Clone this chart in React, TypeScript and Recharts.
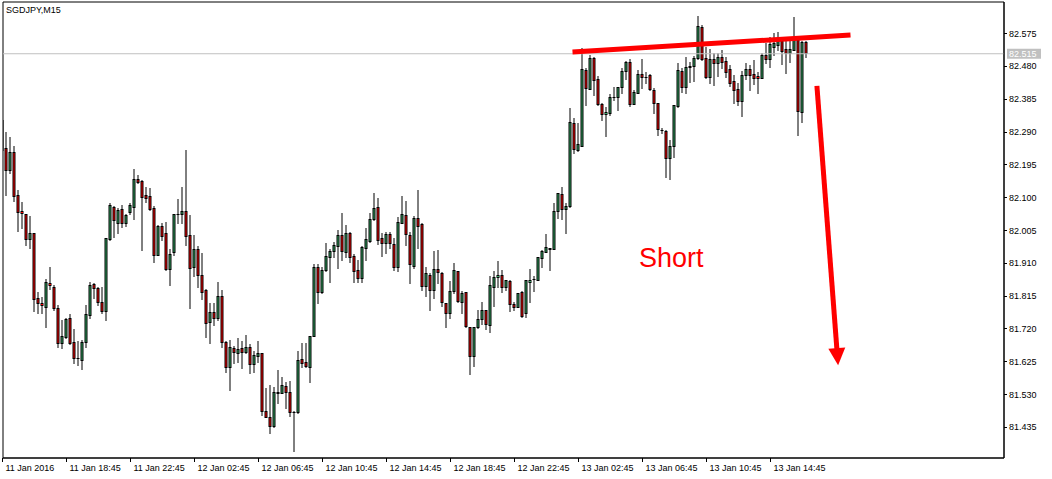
import React from 'react';
import { ComposedChart, Bar, XAxis, YAxis, ReferenceLine, ReferenceArea, ReferenceDot } from 'recharts';

const SYMBOL = 'SGDJPY,M15';

const OPEN = [
82.237,82.242,82.179,82.231,82.106,82.060,82.051,81.979,81.996,81.808,
81.794,81.782,81.852,81.840,81.779,81.678,81.695,81.751,81.681,81.635,
81.629,81.681,81.759,81.849,81.837,81.797,81.771,81.979,82.071,82.025,
82.066,82.025,82.057,82.071,82.153,82.147,82.106,82.103,82.069,81.933,
82.017,81.996,81.892,81.941,82.051,82.051,82.060,81.991,81.898,81.950,
81.875,81.831,81.739,81.768,81.751,81.814,81.681,81.609,81.664,81.649,
81.664,81.652,81.667,81.617,81.641,81.649,81.481,81.464,81.438,81.534,
81.534,81.554,81.536,81.478,81.478,81.632,81.623,81.609,81.698,81.898,
81.826,81.889,81.927,81.944,81.959,81.991,81.941,81.996,81.930,81.889,
81.866,81.953,81.973,82.037,82.071,81.982,81.968,81.993,81.965,81.898,
82.025,82.048,81.991,81.901,82.040,82.022,81.843,81.875,81.831,81.892,
81.881,81.794,81.765,81.829,81.886,81.797,81.826,81.724,81.641,81.724,
81.747,81.774,81.730,81.840,81.869,81.875,81.840,81.857,81.791,81.782,
81.826,81.765,81.855,81.863,81.860,81.924,81.941,81.950,81.950,82.060,
82.109,82.066,82.074,82.315,82.236,82.248,82.468,82.413,82.503,82.442,
82.370,82.341,82.344,82.390,82.390,82.419,82.465,82.491,82.370,82.401,
82.456,82.448,82.453,82.410,82.373,82.294,82.291,82.213,82.248,82.364,
82.465,82.419,82.477,82.480,82.503,82.592,82.503,82.448,82.500,82.488,
82.506,82.494,82.471,82.436,82.413,82.378,82.453,82.471,82.456,82.451,
82.445,82.511,82.500,82.535,82.540,82.552,82.529,82.517,82.526,82.555,
82.347,82.549];

const HIGH = [
82.367,82.289,82.274,82.248,82.121,82.086,82.051,82.046,81.996,81.826,
81.811,81.863,81.898,81.846,81.788,81.745,81.750,81.762,81.719,81.684,
81.687,81.788,81.855,81.852,81.840,81.840,81.982,82.083,82.074,82.069,
82.077,82.052,82.083,82.181,82.164,82.150,82.130,82.127,82.074,82.019,
82.025,82.028,81.950,82.052,82.095,82.129,82.237,82.048,81.991,81.959,
81.939,81.834,81.794,81.794,81.855,81.831,81.684,81.687,81.670,81.693,
81.684,81.701,81.675,81.655,81.684,81.649,81.548,81.557,81.551,81.600,
81.580,81.566,81.568,81.481,81.655,81.678,81.678,81.698,81.907,81.907,
81.898,81.968,81.950,81.970,82.005,82.054,82.019,81.999,81.936,81.918,
81.959,82.011,82.054,82.112,82.098,81.996,81.999,81.999,81.982,82.043,
82.103,82.089,81.999,82.046,82.121,82.025,81.898,81.881,81.944,81.947,
81.883,81.794,81.857,81.909,81.886,81.829,81.826,81.724,81.724,81.774,
81.797,81.774,81.872,81.886,81.915,81.889,81.860,81.860,81.797,81.823,
81.829,81.860,81.892,81.872,81.927,81.947,81.993,81.953,82.083,82.112,
82.129,82.083,82.358,82.329,82.315,82.532,82.474,82.511,82.506,82.451,
82.373,82.361,82.399,82.419,82.419,82.474,82.494,82.500,82.410,82.468,
82.500,82.462,82.456,82.416,82.373,82.300,82.294,82.265,82.367,82.488,
82.474,82.506,82.491,82.509,82.624,82.598,82.535,82.529,82.517,82.517,
82.526,82.506,82.482,82.453,82.430,82.465,82.488,82.482,82.497,82.462,
82.517,82.546,82.564,82.575,82.578,82.561,82.555,82.555,82.621,82.558,
82.552,82.552];

const LOW = [
82.231,82.106,82.170,82.089,82.002,82.011,81.962,81.953,81.771,81.765,
81.765,81.724,81.834,81.774,81.667,81.664,81.693,81.675,81.620,81.614,
81.603,81.667,81.751,81.808,81.788,81.765,81.745,81.976,81.985,81.996,
82.014,82.017,82.051,82.037,82.141,81.947,82.086,82.063,81.912,81.933,
81.976,81.889,81.846,81.933,82.025,82.025,81.962,81.779,81.872,81.840,
81.805,81.695,81.678,81.730,81.745,81.667,81.594,81.542,81.620,81.623,
81.606,81.649,81.591,81.594,81.623,81.470,81.463,81.418,81.435,81.505,
81.534,81.490,81.467,81.366,81.476,81.609,81.609,81.566,81.698,81.794,
81.823,81.886,81.855,81.927,81.895,81.918,81.927,81.912,81.855,81.855,
81.855,81.918,81.970,82.034,81.965,81.930,81.938,81.953,81.889,81.886,
82.025,81.962,81.852,81.895,81.953,81.831,81.814,81.774,81.808,81.852,
81.785,81.724,81.751,81.823,81.797,81.765,81.724,81.588,81.612,81.721,
81.733,81.719,81.710,81.785,81.840,81.826,81.831,81.771,81.774,81.782,
81.753,81.753,81.797,81.829,81.860,81.898,81.941,81.889,81.950,82.040,
82.037,81.996,82.071,82.228,82.234,82.248,82.367,82.413,82.396,82.367,
82.323,82.277,82.338,82.381,82.352,82.401,82.442,82.364,82.370,82.401,
82.416,82.430,82.410,82.344,82.280,82.286,82.158,82.153,82.216,82.361,
82.404,82.401,82.433,82.436,82.500,82.497,82.445,82.430,82.425,82.451,
82.474,82.448,82.422,82.373,82.367,82.335,82.442,82.410,82.427,82.401,
82.445,82.488,82.477,82.511,82.526,82.485,82.459,82.491,82.526,82.280,
82.318,82.506];

const CLOSE = [
82.323,82.179,82.231,82.104,82.057,82.054,81.979,81.997,81.805,81.794,
81.788,81.854,81.846,81.779,81.678,81.698,81.747,81.678,81.635,81.636,
81.681,81.762,81.846,81.837,81.797,81.771,81.982,82.077,82.034,82.063,
82.025,82.048,82.077,82.153,82.144,82.101,82.098,82.066,81.933,82.017,
81.988,81.892,81.936,82.051,82.051,82.060,81.988,81.895,81.950,81.875,
81.826,81.736,81.768,81.751,81.814,81.681,81.609,81.667,81.652,81.661,
81.652,81.667,81.617,81.643,81.649,81.481,81.464,81.438,81.536,81.535,
81.557,81.536,81.478,81.479,81.629,81.620,81.612,81.698,81.898,81.826,
81.889,81.930,81.944,81.962,81.991,81.944,81.996,81.927,81.886,81.866,
81.956,81.979,82.037,82.069,81.976,81.968,81.993,81.968,81.898,82.028,
82.051,81.993,81.907,82.040,82.017,81.843,81.881,81.831,81.892,81.883,
81.797,81.765,81.829,81.889,81.800,81.823,81.727,81.641,81.724,81.747,
81.774,81.733,81.846,81.869,81.875,81.840,81.860,81.791,81.782,81.823,
81.756,81.860,81.860,81.864,81.927,81.944,81.956,81.953,82.060,82.112,
82.066,82.074,82.318,82.239,82.254,82.471,82.416,82.503,82.439,82.370,
82.341,82.347,82.390,82.391,82.419,82.465,82.491,82.370,82.404,82.456,
82.448,82.449,82.413,82.373,82.297,82.295,82.213,82.248,82.367,82.468,
82.419,82.477,82.480,82.503,82.595,82.500,82.448,82.500,82.488,82.506,
82.491,82.462,82.430,82.410,82.378,82.453,82.471,82.453,82.445,82.445,
82.511,82.500,82.543,82.546,82.552,82.523,82.517,82.529,82.555,82.349,
82.549,82.517];

const X_TICKS = [0, 16, 32, 48, 64, 80, 96, 112, 128, 144, 160, 176, 192];
const X_TICK_LABELS = [
  '11 Jan 2016', '11 Jan 18:45', '11 Jan 22:45', '12 Jan 02:45', '12 Jan 06:45',
  '12 Jan 10:45', '12 Jan 14:45', '12 Jan 18:45', '12 Jan 22:45', '13 Jan 02:45',
  '13 Jan 06:45', '13 Jan 10:45', '13 Jan 14:45',
];
const Y_TICKS = [82.575, 82.48, 82.385, 82.29, 82.195, 82.1, 82.005, 81.91, 81.815, 81.72, 81.625, 81.53, 81.435];
const LAST_PRICE = 82.515;

const X_DOMAIN = [0.125, 250.375];
const Y_DOMAIN = [81.3453, 82.6647];

const TREND_LINE = [{ x: 142.5, y: 82.52 }, { x: 212, y: 82.569 }];
const ARROW = [{ x: 203.6, y: 82.422 }, { x: 208.9, y: 81.614 }];
const NOTE = { x: 159.1, y: 81.898, text: 'Short' };

const GREEN = '#32A862';
const RED = '#FF0000';
const FONT = '"Liberation Sans", Arial, sans-serif';

const candles = OPEN.map((o, i) => ({ i, o, h: HIGH[i], l: LOW[i], c: CLOSE[i] }));

function Candle(props: any) {
  const { x, y, width, height, payload } = props;
  if (!payload || x == null || y == null) return null;
  const { o, h, l, c } = payload;
  const top = Math.min(y, y + height);
  const bot = Math.max(y, y + height);
  const span = h - l || 1;
  const py = (p: number) => top + ((h - p) / span) * (bot - top);
  const cx = x + width / 2;
  const yo = py(o);
  const yc = py(c);
  const bTop = Math.round(Math.min(yo, yc));
  const bBot = Math.round(Math.max(yo, yc));
  const up = c >= o;
  return (
    <g>
      <line x1={cx} x2={cx} y1={Math.round(top)} y2={Math.round(bot) + 1} stroke="#000" strokeWidth={1} />
      {bBot - bTop >= 1 ? (
        <rect x={cx - 1} y={bTop + 0.5} width={2} height={bBot - bTop} fill={up ? GREEN : RED} stroke="#000" strokeWidth={1} />
      ) : (
        <line x1={cx - 1.5} x2={cx + 1.5} y1={bTop + 0.5} y2={bTop + 0.5} stroke="#000" strokeWidth={1} />
      )}
    </g>
  );
}

function XTick(props: any) {
  const { x, y, payload } = props;
  const idx = X_TICKS.indexOf(payload.value);
  return (
    <g>
      <line x1={x} x2={x} y1={y} y2={y + 4} stroke="#000" strokeWidth={1} />
      <text x={x + 3} y={y + 13} fontSize={9} fontFamily={FONT} fill="#000">{X_TICK_LABELS[idx]}</text>
    </g>
  );
}

function YTick(props: any) {
  const { x, y, payload } = props;
  const v = Number(payload.value);
  const label = v.toFixed(3);
  if (Math.abs(v - LAST_PRICE) < 1e-6) {
    return (
      <g>
        <rect x={x + 3} y={y - 5} width={34} height={10} fill="#C0C0C0" />
        <text x={x + 5} y={y + 3.5} fontSize={9} fontFamily={FONT} fill="#FFFFFF">{label}</text>
      </g>
    );
  }
  const ly = Math.round(y) + 0.5;
  return (
    <g>
      <line x1={x} x2={x + 3} y1={ly} y2={ly} stroke="#000" strokeWidth={1} />
      <text x={x + 5} y={y + 3.5} fontSize={9} fontFamily={FONT} fill="#000">{label}</text>
    </g>
  );
}

function ArrowShape(props: any) {
  const { x1, y1, x2, y2 } = props;
  if ([x1, y1, x2, y2].some((v) => v == null || isNaN(v))) return null;
  const dx = x2 - x1;
  const dy = y2 - y1;
  const len = Math.sqrt(dx * dx + dy * dy) || 1;
  const ux = dx / len;
  const uy = dy / len;
  const head = 17;
  const half = 8.5;
  const bx = x2 - ux * head;
  const by = y2 - uy * head;
  const px = -uy;
  const py = ux;
  return (
    <g>
      <line x1={x1} y1={y1} x2={bx + ux * 2} y2={by + uy * 2} stroke={RED} strokeWidth={5} />
      <polygon points={`${x2},${y2} ${bx + px * half},${by + py * half} ${bx - px * half},${by - py * half}`} fill={RED} />
    </g>
  );
}

export default function App() {
  return (
    <div style={{ position: 'absolute', left: 0, top: 0, width: 1052, height: 479, background: '#fff' }}>
      <ComposedChart width={1052} height={479} data={candles} margin={{ top: 2, right: 0, bottom: 0, left: 3 }}>
        <XAxis
          dataKey="i"
          type="number"
          domain={X_DOMAIN}
          ticks={X_TICKS}
          allowDataOverflow
          interval={0}
          height={21}
          axisLine={{ stroke: '#000' }}
          tickLine={false}
          tickSize={0}
          tickMargin={0}
          tick={(p: any) => <XTick {...p} />}
        />
        <YAxis
          orientation="right"
          type="number"
          domain={Y_DOMAIN}
          ticks={[...Y_TICKS, LAST_PRICE]}
          allowDataOverflow
          interval={0}
          width={48}
          axisLine={{ stroke: '#000' }}
          tickLine={false}
          tickSize={0}
          tickMargin={0}
          tick={(p: any) => <YTick {...p} />}
        />
        <ReferenceLine y={LAST_PRICE} stroke="#C0C0C0" strokeWidth={1} />
        <Bar
          dataKey={(d: any) => [d.l, d.h]}
          barSize={3}
          isAnimationActive={false}
          shape={(p: any) => <Candle {...p} />}
        />
        <ReferenceLine segment={TREND_LINE} stroke={RED} strokeWidth={5} ifOverflow="visible" />
        <ReferenceLine segment={ARROW} ifOverflow="visible" shape={(p: any) => <ArrowShape {...p} />} />
        <ReferenceDot
          x={NOTE.x}
          y={NOTE.y}
          r={0}
          ifOverflow="visible"
          shape={(p: any) => (
            <text x={p.cx} y={p.cy} fill={RED} fontSize={27} fontFamily={FONT}>{NOTE.text}</text>
          )}
        />
        <ReferenceArea
          x1={X_DOMAIN[0]}
          x2={X_DOMAIN[1]}
          y1={Y_DOMAIN[0]}
          y2={Y_DOMAIN[1]}
          fill="none"
          fillOpacity={0}
          stroke="#000"
          strokeWidth={1}
          ifOverflow="visible"
        />
      </ComposedChart>
      <div style={{ position: 'absolute', left: 6, top: 5, fontFamily: FONT, fontSize: 9, lineHeight: '10px', color: '#000', whiteSpace: 'nowrap' }}>
        {SYMBOL}
      </div>
    </div>
  );
}
